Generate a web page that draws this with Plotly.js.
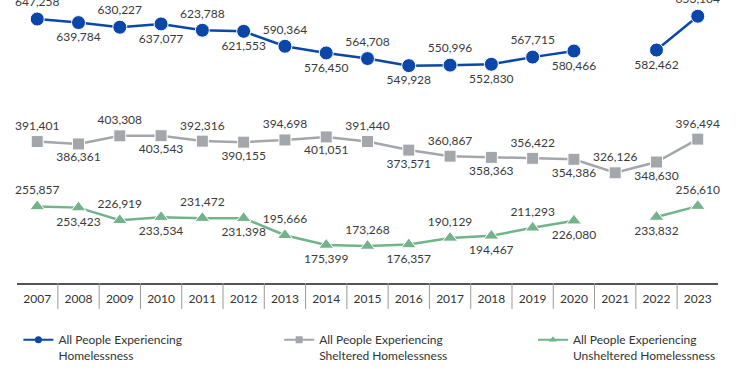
<!DOCTYPE html>
<html>
<head>
<meta charset="utf-8">
<script src="https://cdn.plot.ly/plotly-3.0.1.min.js"></script>
<style>html,body{margin:0;padding:0;background:#fff;}#chart{width:750px;height:375px;}</style>
</head>
<body>
<div id="chart"></div>
<script>
const years = ['2007','2008','2009','2010','2011','2012','2013','2014','2015','2016','2017','2018','2019','2020','2021','2022','2023'];
const totalValues = [647258, 639784, 630227, 637077, 623788, 621553, 590364, 576450, 564708, 549928, 550996, 552830, 567715, 580466, null, 582462, 653104];
const shelteredValues = [391401, 386361, 403308, 403543, 392316, 390155, 394698, 401051, 391440, 373571, 360867, 358363, 356422, 354386, 326126, 348630, 396494];
const unshelteredValues = [255857, 253423, 226919, 233534, 231472, 231398, 195666, 175399, 173268, 176357, 190129, 194467, 211293, 226080, null, 233832, 256610];
const seriesNames = ['All People Experiencing<br>Homelessness', 'All People Experiencing<br>Sheltered Homelessness', 'All People Experiencing<br>Unsheltered Homelessness'];

const colors = ['#0B47A8', '#A3A6AB', '#72B38C'];
const symbols = ['circle', 'square', 'triangle-up'];
const sizes = [14, 12, 13];
const allSeries = [totalValues, shelteredValues, unshelteredValues];
const positions = years.map((_, i) => i % 2 === 0 ? 'top center' : 'bottom center');
const FONT = 'Lato, "Noto Sans", sans-serif';
const legendIds = ['legend', 'legend2', 'legend3'];
const legendX = [0.002, 0.374, 0.736];

const traces = [];
allSeries.forEach((vals, k) => {
  traces.push({
    x: years, y: vals, type: 'scatter', mode: 'lines+markers+text',
    line: {color: colors[k], width: 2.5},
    marker: {color: colors[k], symbol: symbols[k], size: sizes[k], line: {color: '#fff', width: 1}},
    text: vals.map(v => v === null ? '' : v.toLocaleString('en-US')),
    textposition: positions,
    textfont: {family: FONT, size: 12, color: '#3a3a3a'},
    cliponaxis: false, connectgaps: false, showlegend: false, hoverinfo: 'skip'
  });
});
allSeries.forEach((vals, k) => {
  traces.push({
    x: [null], y: [null], type: 'scatter', mode: 'lines+markers', name: seriesNames[k],
    line: {color: colors[k], width: 2},
    marker: {color: colors[k], symbol: symbols[k], size: 7},
    showlegend: true, legend: legendIds[k], hoverinfo: 'skip'
  });
});

const shapes = years.slice(0, -1).map((_, i) => ({
  type: 'line', xref: 'x', yref: 'paper', x0: i + 0.5, x1: i + 0.5, y0: 0, y1: -0.092,
  line: {color: '#9a9a9a', width: 1}
}));

const layout = {
  width: 750, height: 375,
  margin: {l: 17, r: 32, t: 0, b: 92, autoexpand: false},
  paper_bgcolor: '#fff', plot_bgcolor: '#fff',
  font: {family: FONT, color: '#333'},
  xaxis: {
    type: 'category', range: [-0.49, 16.49], showgrid: false, zeroline: false,
    showline: true, linecolor: '#555', linewidth: 1.5, ticks: '', ticklabelstandoff: 4,
    tickfont: {family: FONT, size: 12, color: '#333'}
  },
  yaxis: {range: [96000, 687000], visible: false, showgrid: false, zeroline: false},
  shapes: shapes,
  showlegend: true
};
legendIds.forEach((id, k) => {
  layout[id] = {
    orientation: 'h', x: legendX[k], xanchor: 'left', y: -0.15, yanchor: 'top',
    valign: 'top', bgcolor: 'rgba(0,0,0,0)',
    font: {family: FONT, size: 12, color: '#333'}
  };
});

Plotly.newPlot('chart', traces, layout, {displayModeBar: false, staticPlot: true});
</script>
</body>
</html>
